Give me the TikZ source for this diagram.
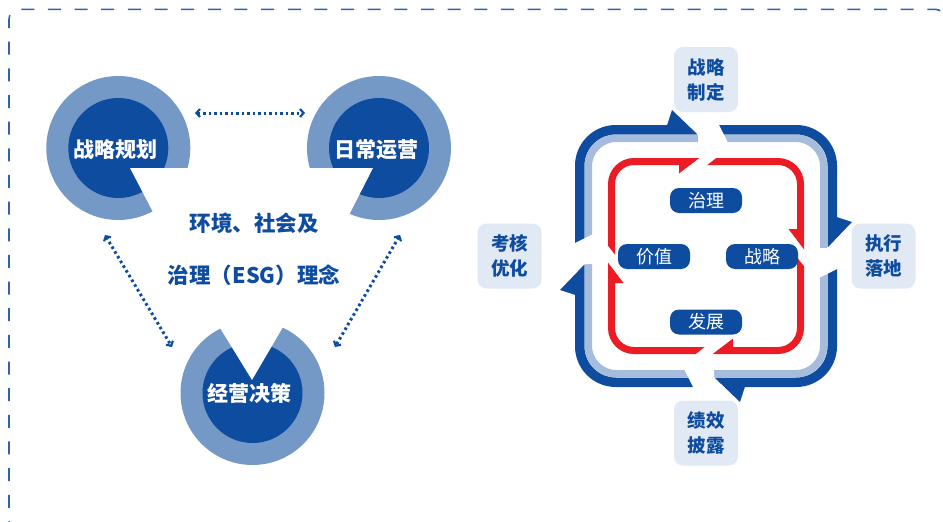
\documentclass[tikz,border=0pt]{standalone}
\usepackage{fontspec}
\newfontfamily\cjk{Noto Sans CJK SC}
\usetikzlibrary{arrows.meta}
\definecolor{dkblue}{HTML}{0E4C9F}
\definecolor{ring}{HTML}{7599C7}
\definecolor{ltband}{HTML}{A5BCDC}
\definecolor{redc}{HTML}{EC1C24}
\definecolor{boxbg}{HTML}{E1E9F4}
\definecolor{framec}{HTML}{3162AA}
\tikzset{
  frame/.style={draw=framec, line width=1.6pt, rounded corners=10pt, dash pattern=on 13pt off 13.65pt},
  ctext/.style={text=white, font=\cjk\bfseries\fontsize{21}{21}\selectfont},
  esgtext/.style={text=dkblue, align=center, font=\cjk\bfseries\fontsize{21.5}{52}\selectfont},
  dotarrow/.style={draw=dkblue, line width=3pt, dash pattern=on 2.6pt off 2.9pt, <->, >={Straight Barb[length=3.5pt,width=8pt,line width=2.2pt]}},
  pill/.style={fill=dkblue, rounded corners=9pt, minimum width=72pt, minimum height=25pt, inner sep=0pt, text=white, font=\cjk\fontsize{18}{18}\selectfont},
  lbox/.style={fill=boxbg, rounded corners=9pt, minimum width=64pt, minimum height=65pt, inner sep=0pt, align=center, text=dkblue, font=\cjk\bfseries\fontsize{18.5}{25}\selectfont}
}
\begin{document}
\begin{tikzpicture}[x=1pt,y=-1pt]
\useasboundingbox (0,0) rectangle (943,522);
\clip (0,0) rectangle (943,522);
%frame
\draw[frame] (9,641) -- (9,9.3) -- (945,9.3) -- (945,641);
%circles
\foreach \x/\y in {118.3/148, 379/148, 252.5/393} {
  \fill[ring] (\x,\y) circle[radius=72pt];
  \fill[dkblue] (\x,\y) circle[radius=50pt];
}
\begin{scope}
  \clip (118.3,148) circle[radius=74pt];
  \fill[white] (130,168) -- (210,168) -- (210,260) -- (178,260) -- cycle;
\end{scope}
\begin{scope}
  \clip (379,148) circle[radius=74pt];
  \fill[white] (373,168) -- (300,168) -- (300,260) -- (326,260) -- cycle;
\end{scope}
\begin{scope}
  \clip (252.5,393) circle[radius=74pt];
  \fill[white] (252,380) -- (188,276) -- (314,274) -- cycle;
\end{scope}
\node[ctext] (plan) at (115,150) {战略规划};
\node[ctext] (oper) at (376,150) {日常运营};
\node[ctext] (deci) at (249,393) {经营决策};
%arrows
\coordinate (a1) at (195,113); \coordinate (a2) at (305,113);
\coordinate (b1) at (105,235); \coordinate (b2) at (172,347);
\coordinate (d1) at (400,235); \coordinate (d2) at (335,347);
\draw[dotarrow] (a1) -- (a2);
\draw[dotarrow] (b1) -- (b2);
\draw[dotarrow] (d1) -- (d2);
\node[esgtext] (esg) at (254,249) {环境、社会及\\治理（ESG）理念};
%loops
\draw[dkblue, line width=9.5pt, rounded corners=36pt] (579.75,129.75) rectangle (832.25,382.25);
\draw[ltband, line width=7.5pt, rounded corners=28pt] (588.25,138.25) rectangle (823.75,373.75);
\draw[redc, line width=7pt, rounded corners=22.5pt] (611.5,161.5) rectangle (800.5,350.5);
\foreach \a in {0,-90,180,90} {
  \begin{scope}[rotate around={\a:(706,256)}]
    \fill[white] (683,121) -- (698,135) -- (698,145) -- (729,145) -- (717,121) -- cycle;
    \fill[dkblue] (667,125.5) -- (672,110) -- (697,134) -- cycle;
    \fill[white] (702.8,155) -- (719.8,155) -- (703.3,168) -- (686.3,168) -- cycle;
    \fill[redc] (679,164.5) -- (679,173.5) -- (699.5,157.8) -- cycle;
  \end{scope}
}
%labels
\node[pill] (gov) at (706,200.5) {治理};
\node[pill] (val) at (654,256.5) {价值};
\node[pill] (stra) at (762,256.5) {战略};
\node[pill] (dev) at (706,322) {发展};
\node[lbox] (set) at (706,79.5) {战略\\制定};
\node[lbox] (exe) at (883.5,256) {执行\\落地};
\node[lbox] (eva) at (509.5,256) {考核\\优化};
\node[lbox] (dis) at (706,433) {绩效\\披露};
\end{tikzpicture}
\end{document}
